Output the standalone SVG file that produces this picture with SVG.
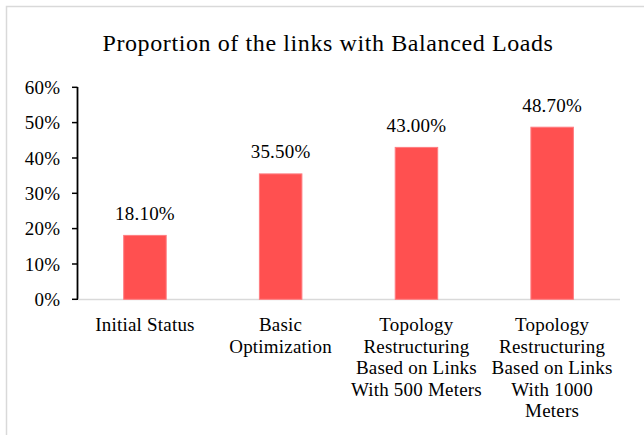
<svg xmlns="http://www.w3.org/2000/svg" width="644" height="435" viewBox="0 0 644 435">
  <style>
    text { font-family: "Liberation Serif", "DejaVu Serif", serif; fill: #000000; }
    .title { font-size: 24px; letter-spacing: 0.6px; text-anchor: middle; }
    .tick { font-size: 19px; letter-spacing: 0.3px; text-anchor: end; }
    .val { font-size: 19px; letter-spacing: 0.2px; text-anchor: middle; }
    .cat { font-size: 19px; letter-spacing: 0.2px; text-anchor: middle; }
    .bar { fill: #ff5050; stroke: #ff7c80; stroke-width: 1; }
  </style>
  <rect x="0" y="0" width="644" height="435" fill="#ffffff"/>
  <!-- chart frame -->
  <rect x="6.5" y="6.5" width="700" height="500" fill="none" stroke="#d9d9d9" stroke-width="1.5"/>

  <text class="title" x="328" y="51">Proportion of the links with Balanced Loads</text>

  <!-- value axis -->
  <g id="y-axis">
    <line x1="77.5" y1="87" x2="77.5" y2="300" stroke="#000" stroke-width="1.8"/>
    <g stroke="#000" stroke-width="1.5">
      <line x1="72" y1="87.3" x2="77.5" y2="87.3"/>
      <line x1="72" y1="122.6" x2="77.5" y2="122.6"/>
      <line x1="72" y1="158" x2="77.5" y2="158"/>
      <line x1="72" y1="193.3" x2="77.5" y2="193.3"/>
      <line x1="72" y1="228.6" x2="77.5" y2="228.6"/>
      <line x1="72" y1="264" x2="77.5" y2="264"/>
      <line x1="72" y1="299.3" x2="77.5" y2="299.3"/>
    </g>
    <text class="tick" x="60.5" y="94">60%</text>
    <text class="tick" x="60.5" y="129.3">50%</text>
    <text class="tick" x="60.5" y="164.7">40%</text>
    <text class="tick" x="60.5" y="200">30%</text>
    <text class="tick" x="60.5" y="235.3">20%</text>
    <text class="tick" x="60.5" y="270.7">10%</text>
    <text class="tick" x="60.5" y="306">0%</text>
  </g>

  <!-- category axis -->
  <line id="x-axis" x1="78" y1="299.5" x2="620" y2="299.5" stroke="#d9d9d9" stroke-width="1.5"/>

  <g id="bar-initial">
    <rect class="bar" x="123.7" y="235.4" width="42.5" height="63.9"/>
    <text class="val" x="145" y="220">18.10%</text>
    <text class="cat" x="145" y="331">Initial Status</text>
  </g>
  <g id="bar-basic">
    <rect class="bar" x="259.4" y="173.9" width="42.5" height="125.4"/>
    <text class="val" x="280.6" y="158">35.50%</text>
    <text class="cat" x="280.6" y="331">Basic</text>
    <text class="cat" x="280.6" y="352.5">Optimization</text>
  </g>
  <g id="bar-500m">
    <rect class="bar" x="395.2" y="147.4" width="42.5" height="151.9"/>
    <text class="val" x="416.4" y="132">43.00%</text>
    <text class="cat" x="416.4" y="331">Topology</text>
    <text class="cat" x="416.4" y="352.5">Restructuring</text>
    <text class="cat" x="416.4" y="374">Based on Links</text>
    <text class="cat" x="416.4" y="395.5">With 500 Meters</text>
  </g>
  <g id="bar-1000m">
    <rect class="bar" x="530.9" y="127.2" width="42.5" height="172.1"/>
    <text class="val" x="552.1" y="111.7">48.70%</text>
    <text class="cat" x="552.1" y="331">Topology</text>
    <text class="cat" x="552.1" y="352.5">Restructuring</text>
    <text class="cat" x="552.1" y="374">Based on Links</text>
    <text class="cat" x="552.1" y="395.5">With 1000</text>
    <text class="cat" x="552.1" y="417">Meters</text>
  </g>
</svg>
